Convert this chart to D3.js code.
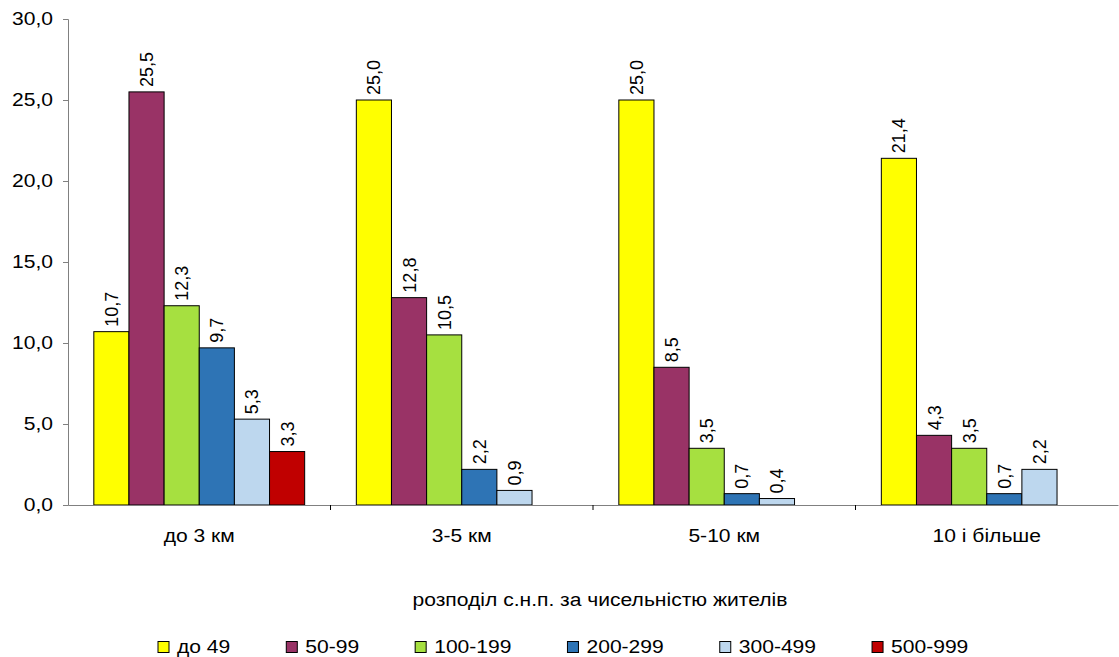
<!DOCTYPE html>
<html>
<head>
<meta charset="utf-8">
<script src="https://cdn.jsdelivr.net/npm/d3@7"></script>
<style>
  body { margin: 0; background: #fff; }
  svg { display: block; font-family: "Liberation Sans", Arial, sans-serif; }
</style>
</head>
<body>
<svg id="chart" width="1119" height="657"></svg>
<script>
const categories = ["до 3 км", "3-5 км", "5-10 км", "10 і більше"];
const seriesNames = ["до 49", "50-99", "100-199", "200-299", "300-499", "500-999"];
const seriesColors = ["#FFFF00", "#993366", "#A6E040", "#2E74B5", "#BDD7EE", "#C00000"];
const s_do49 = [10.7, 25.0, 25.0, 21.4];
const s_50_99 = [25.5, 12.8, 8.5, 4.3];
const s_100_199 = [12.3, 10.5, 3.5, 3.5];
const s_200_299 = [9.7, 2.2, 0.7, 0.7];
const s_300_499 = [5.3, 0.9, 0.4, 2.2];
const s_500_999 = [3.3, null, null, null];
const seriesValues = [s_do49, s_50_99, s_100_199, s_200_299, s_300_499, s_500_999];
const yTicks = [0, 5, 10, 15, 20, 25, 30];
const xTitle = "розподіл с.н.п. за чисельністю жителів";

(function () {
const svg = d3.select("#chart");
const mLeft = 68, mRight = 1118, mTop = 19, mBottom = 505;
const FS = 18, STRETCH = 1.17;
const fmt = v => d3.format(".1f")(v).replace(".", ",");
function stretch(sel) {
  sel.each(function () {
    const w = this.getComputedTextLength();
    d3.select(this).attr("textLength", w * STRETCH).attr("lengthAdjust", "spacingAndGlyphs");
  });
}

const y = d3.scaleLinear().domain([0, 30]).range([mBottom, mTop]);
const x0 = d3.scaleBand().domain(categories).range([mLeft, mRight]).paddingInner(0).paddingOuter(0);
const x1 = d3.scaleBand().domain(seriesNames).range([0, x0.bandwidth()]).paddingInner(0).paddingOuter(0.735);

const data = [];
categories.forEach((c, ci) => {
  seriesNames.forEach((s, si) => {
    const v = seriesValues[si][ci];
    if (v !== null && v !== undefined) data.push({ c, s, si, v });
  });
});

// bars
const g = svg.append("g");
g.selectAll("rect.bar").data(data).enter().append("rect")
  .attr("class", "bar")
  .attr("x", d => x0(d.c) + x1(d.s))
  .attr("y", d => y(d.v))
  .attr("width", x1.bandwidth())
  .attr("height", d => y(0) - y(d.v))
  .attr("fill", d => seriesColors[d.si])
  .attr("stroke", "#000")
  .attr("stroke-width", 1);

// value labels
g.selectAll("text.val").data(data).enter().append("text")
  .attr("class", "val")
  .attr("transform", d => `translate(${x0(d.c) + x1(d.s) + x1.bandwidth() / 2},${y(d.v) - 5}) rotate(-90)`)
  .attr("dy", "0.36em")
  .attr("text-anchor", "start")
  .attr("font-size", 18)
  .attr("fill", "#000")
  .text(d => fmt(d.v));

// y axis
const yAxis = d3.axisLeft(y).tickValues(yTicks).tickSize(5).tickPadding(10).tickFormat(fmt);
const ya = svg.append("g").attr("transform", `translate(${mLeft},0)`).call(yAxis);
ya.select(".domain").attr("stroke", "#808080");
ya.selectAll(".tick line").attr("stroke", "#808080");
ya.selectAll(".tick text").attr("font-size", FS).attr("fill", "#000")
  .attr("font-family", "'Liberation Sans', Arial, sans-serif").call(stretch);

// x axis
const xAxis = d3.axisBottom(x0).tickSize(0).tickPadding(24);
const xa = svg.append("g").attr("transform", `translate(0,${mBottom})`).call(xAxis);
xa.select(".domain").attr("stroke", "#808080");
xa.selectAll(".tick text").attr("font-size", FS).attr("fill", "#000")
  .attr("font-family", "'Liberation Sans', Arial, sans-serif").call(stretch);
const bounds = categories.slice(1).map(c => x0(c));
xa.selectAll("line.bt").data(bounds).enter().append("line")
  .attr("class", "bt")
  .attr("x1", d => d).attr("x2", d => d)
  .attr("y1", 0).attr("y2", 5)
  .attr("stroke", "#000");

// x title
svg.append("text")
  .attr("x", 600).attr("y", 606)
  .attr("text-anchor", "middle")
  .attr("font-size", FS)
  .text(xTitle).call(stretch);

// legend
const legend = svg.append("g").attr("transform", "translate(0,647)");
let lx = 158;
seriesNames.forEach((s, i) => {
  const item = legend.append("g").attr("transform", `translate(${lx},0)`);
  item.append("rect").attr("x", 0).attr("y", -5.5).attr("width", 11).attr("height", 11)
    .attr("fill", seriesColors[i]).attr("stroke", "#000").attr("stroke-width", 1);
  const t = item.append("text").attr("x", 19).attr("y", 0).attr("dy", "0.35em")
    .attr("font-size", FS).text(s);
  const w = t.node().getComputedTextLength() * STRETCH;
  t.attr("textLength", w).attr("lengthAdjust", "spacingAndGlyphs");
  lx += 19 + w + 56;
});
})();
</script>
</body>
</html>
